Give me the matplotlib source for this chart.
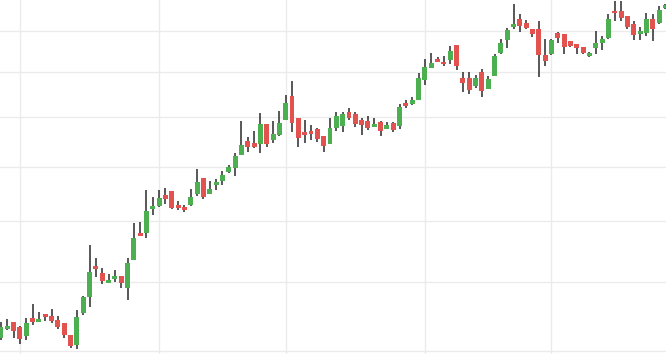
import matplotlib
matplotlib.use("Agg")
import matplotlib.pyplot as plt
import numpy as np

# OHLC values (106 trading days)
opens = [71.8, 73.1, 74.0, 73.3, 72.0, 74.6, 74.1, 75.2, 74.9, 74.3,
         73.9, 72.2, 70.85, 75.4, 77.75, 82.5, 81.4, 79.9, 80.5, 80.95,
         79.0, 83.5, 87.95, 88.0, 92.2, 92.7, 94.65, 95.4, 92.85, 92.5,
         92.9, 94.9, 97.8, 94.9, 96.55, 97.3, 99.0, 99.8, 102.3, 105.1,
         104.7, 104.55, 108.6, 105.35, 106.35, 109.5, 114.65, 109.85, 106.95, 107.15,
         107.55, 106.1, 104.55, 107.75, 108.15, 111.15, 110.7, 109.45, 109.25, 107.95,
         109.0, 107.55, 108.8, 108.15, 113.1, 112.9, 113.75, 118.25, 121.05, 123.15,
         122.45, 123.0, 126.55, 118.7, 118.7, 116.95, 119.95, 116.25, 119.25, 124.65,
         127.85, 131.1, 133.05, 132.05, 130.5, 130.5, 124.15, 124.4, 129.5, 129.25,
         127.5, 126.8, 126.05, 123.95, 125.65, 127.1, 128.1, 135.15, 135.15, 133.85,
         131.75, 129.3, 129.55, 133.05, 132.1, 135.9]
highs = [74.0, 74.5, 74.1, 73.5, 74.6, 76.7, 75.5, 75.2, 75.9, 74.9,
         73.95, 72.25, 75.8, 77.85, 85.9, 83.8, 82.2, 81.25, 81.9, 81.0,
         83.8, 89.7, 89.85, 95.6, 94.3, 95.6, 95.95, 95.45, 93.55, 92.85,
         95.75, 99.55, 97.85, 97.25, 97.65, 99.15, 100.3, 102.65, 109.2, 105.9,
         107.1, 110.95, 108.65, 109.2, 111.35, 114.85, 118.0, 109.9, 109.45, 108.4,
         107.75, 106.15, 109.85, 111.15, 111.15, 112.0, 111.15, 109.85, 110.3, 109.85,
         109.25, 109.05, 109.05, 112.9, 113.75, 114.4, 119.85, 123.15, 124.6, 123.6,
         123.85, 126.3, 126.6, 119.95, 119.95, 119.45, 120.85, 119.25, 124.35, 128.0,
         130.75, 136.95, 134.35, 132.8, 130.55, 132.55, 128.0, 128.0, 129.75, 129.3,
         127.55, 126.85, 126.1, 124.9, 130.0, 128.75, 134.35, 137.75, 137.75, 133.9,
         132.55, 131.0, 134.6, 134.35, 136.45, 136.9]
lows = [71.5, 72.9, 71.8, 70.9, 71.55, 73.65, 74.0, 74.2, 73.9, 73.05,
        71.8, 70.45, 70.3, 75.1, 76.25, 80.8, 79.75, 79.85, 80.05, 79.1,
        77.25, 83.45, 87.45, 87.15, 91.1, 92.55, 93.1, 92.15, 92.0, 91.65,
        92.7, 94.55, 94.0, 94.85, 95.6, 96.5, 98.85, 98.25, 102.25, 102.9,
        103.75, 102.75, 103.95, 104.75, 106.15, 109.45, 107.0, 103.95, 104.75, 105.35,
        104.95, 102.95, 104.5, 107.15, 106.95, 109.45, 107.95, 106.3, 107.35, 107.9,
        106.1, 107.5, 106.95, 107.55, 112.0, 112.65, 113.7, 117.1, 121.0, 122.4,
        121.55, 122.05, 120.6, 115.4, 115.15, 116.5, 114.5, 116.2, 119.2, 124.4,
        125.85, 130.6, 129.8, 130.35, 128.35, 119.0, 121.55, 124.15, 127.1, 124.4,
        126.1, 124.4, 124.4, 123.7, 124.4, 125.4, 128.05, 132.6, 132.6, 130.6,
        127.85, 127.85, 128.6, 127.6, 131.85, 135.7]
closes = [73.3, 73.5, 72.7, 71.7, 73.9, 74.1, 74.5, 74.8, 74.2, 73.3,
          72.25, 70.7, 74.75, 77.7, 81.55, 82.1, 80.2, 80.3, 80.95, 79.9,
          83.0, 87.1, 87.5, 91.8, 92.65, 94.1, 94.0, 92.3, 92.35, 92.0,
          94.3, 97.1, 94.35, 95.75, 97.05, 98.4, 99.95, 102.05, 104.3, 103.95,
          103.95, 108.6, 104.55, 106.5, 108.8, 113.1, 108.85, 105.75, 106.35, 106.6,
          105.55, 104.15, 107.75, 110.3, 110.7, 109.85, 108.6, 108.4, 107.75, 108.6,
          107.15, 108.4, 107.35, 112.2, 112.45, 113.75, 118.7, 121.25, 122.2, 122.45,
          121.85, 125.05, 121.35, 117.6, 116.05, 118.7, 115.8, 118.45, 123.85, 127.05,
          130.25, 131.75, 131.35, 130.85, 129.3, 124.15, 122.75, 127.75, 128.1, 126.1,
          126.35, 125.85, 124.65, 124.6, 127.05, 128.0, 133.05, 134.45, 133.4, 131.1,
          128.85, 130.0, 133.05, 130.6, 135.4, 136.7]

month_starts = [3, 25, 45, 67, 87]          # first trading day of each month
price_grid = [70, 80, 90, 100, 110, 120, 130]

up_color = "#4caf50"
down_color = "#e2524e"
wick_color = "#2a2a2a"

fig = plt.figure(figsize=(6.66, 3.54), dpi=100)
ax = fig.add_axes([0, 0, 1, 1])

x = np.arange(len(opens))
o = np.array(opens); h = np.array(highs); l = np.array(lows); c = np.array(closes)
up = c >= o

ax.vlines(x, l, h, color=wick_color, linewidth=1.1, zorder=2)
bottoms = np.minimum(o, c)
heights = np.abs(c - o)
colors = np.where(up, up_color, down_color)
ax.bar(x, heights, bottom=bottoms, width=0.78, color=colors, linewidth=0, zorder=3)

ax.set_yscale("log")
ax.set_ylim(69.6, 138.0)
ax.set_xlim(-0.15, 105.1)

ax.set_yticks(price_grid)
ax.set_yticks([], minor=True)
ax.set_xticks(month_starts)
ax.grid(True, color="#ebebeb", linewidth=1.0, zorder=0)
ax.set_axisbelow(True)
ax.tick_params(left=False, bottom=False, labelleft=False, labelbottom=False)
for s in ax.spines.values():
    s.set_visible(False)

fig.savefig("out.png", dpi=100)
